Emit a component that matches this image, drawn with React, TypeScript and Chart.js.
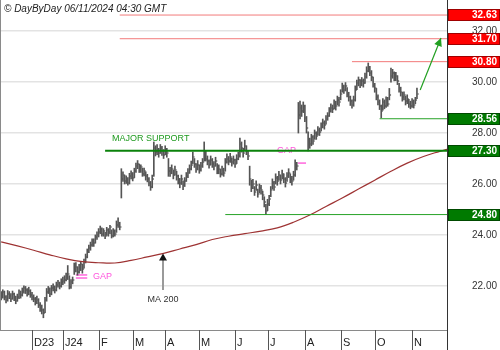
import React, { useEffect, useRef } from "react";
import { Chart, registerables } from "chart.js";

Chart.register(...registerables);

// Daily bars [high, low, close], one array per month
const nov23 = [
  [21.78, 21.45, 21.6], [21.85, 21.52, 21.75], [21.8, 21.45, 21.55], [21.62, 21.33, 21.45], [21.82, 21.4, 21.7],
  [21.78, 21.5, 21.62], [21.7, 21.38, 21.5], [21.8, 21.48, 21.68], [21.72, 21.42, 21.58], [21.6, 21.3, 21.42],
  [21.68, 21.4, 21.55], [21.85, 21.5, 21.7], [21.8, 21.52, 21.65], [21.92, 21.6, 21.8], [22.0, 21.72, 21.92],
  [21.98, 21.7, 21.85], [21.9, 21.6, 21.75], [21.95, 21.65, 21.82], [21.85, 21.55, 21.65],
];
const dec23 = [
  [21.75, 21.45, 21.55], [21.65, 21.38, 21.5], [21.55, 21.25, 21.38], [21.6, 21.3, 21.45], [21.5, 21.15, 21.25],
  [21.35, 21.0, 21.15], [21.25, 20.9, 21.05], [21.1, 20.75, 20.92], [21.55, 20.95, 21.45], [21.9, 21.4, 21.75],
  [21.98, 21.7, 21.85], [21.92, 21.58, 21.7], [22.02, 21.65, 21.9], [22.08, 21.8, 21.95], [22.0, 21.72, 21.85],
  [22.15, 21.8, 22.05], [22.22, 21.95, 22.1], [22.15, 21.88, 22.0], [22.28, 21.95, 22.15],
];
const jan24 = [
  [22.35, 22.05, 22.2], [22.4, 22.1, 22.25], [22.5, 22.2, 22.35], [22.8, 22.25, 22.45], [22.4, 21.88, 21.95],
  [22.25, 21.9, 22.15], [22.35, 22.08, 22.25], [22.9, 22.45, 22.6], [22.92, 22.55, 22.75], [22.75, 22.42, 22.55],
  [22.85, 22.5, 22.7], [22.95, 22.6, 22.85], [22.85, 22.5, 22.65], [23.05, 22.7, 22.95], [23.25, 22.9, 23.15],
  [23.45, 23.1, 23.35], [23.6, 23.3, 23.5], [23.72, 23.4, 23.6], [23.85, 23.55, 23.75], [23.85, 23.55, 23.7],
  [24.0, 23.68, 23.9], [24.12, 23.82, 24.0],
];
const feb24 = [
  [24.25, 23.92, 24.1], [24.35, 24.05, 24.25], [24.28, 23.95, 24.05], [24.25, 23.95, 24.15], [24.1, 23.85, 23.95],
  [24.3, 23.98, 24.2], [24.25, 23.95, 24.1], [24.38, 24.05, 24.3], [24.2, 23.88, 23.95], [24.25, 23.92, 24.15],
  [24.2, 23.95, 24.05], [24.55, 24.1, 24.4], [24.67, 24.3, 24.45], [24.5, 24.2, 24.3], [26.6, 25.45, 26.2],
  [26.48, 26.1, 26.35], [26.35, 26.0, 26.1], [26.32, 26.02, 26.2], [26.25, 25.95, 26.05], [26.42, 26.0, 26.3],
  [26.52, 26.2, 26.4],
];
const mar24 = [
  [26.45, 26.12, 26.25], [26.62, 26.25, 26.5], [26.82, 26.45, 26.7], [26.92, 26.6, 26.8], [26.78, 26.45, 26.55],
  [26.75, 26.45, 26.65], [26.62, 26.3, 26.4], [26.62, 26.32, 26.5], [26.48, 26.15, 26.3], [26.38, 26.08, 26.2],
  [26.25, 25.92, 26.05], [26.1, 25.75, 25.9], [26.35, 25.85, 26.2], [27.65, 26.3, 27.4], [27.5, 27.1, 27.25],
  [27.55, 27.15, 27.35], [27.4, 27.05, 27.2], [27.55, 27.2, 27.4], [27.48, 27.12, 27.3], [27.35, 27.0, 27.15],
];
const apr24 = [
  [27.5, 27.15, 27.35], [27.4, 27.05, 27.2], [27.0, 26.3, 26.5], [26.65, 26.3, 26.45], [26.75, 26.4, 26.6],
  [26.55, 26.2, 26.35], [26.7, 26.35, 26.55], [26.5, 26.15, 26.3], [26.35, 26.0, 26.15], [26.22, 25.85, 26.05],
  [26.35, 25.98, 26.2], [26.12, 25.78, 25.95], [26.25, 25.9, 26.1], [26.45, 26.1, 26.3], [26.6, 26.25, 26.45],
  [26.75, 26.42, 26.6], [26.9, 26.55, 26.75], [27.25, 26.8, 27.05], [27.0, 26.65, 26.8], [26.8, 26.45, 26.6],
  [26.92, 26.55, 26.75],
];
const may24 = [
  [26.75, 26.42, 26.55], [26.85, 26.5, 26.7], [27.0, 26.65, 26.85], [27.65, 26.9, 27.3], [27.3, 26.9, 27.0],
  [27.1, 26.75, 26.9], [26.95, 26.62, 26.75], [27.1, 26.75, 26.95], [27.0, 26.65, 26.8], [26.88, 26.55, 26.7],
  [27.05, 26.7, 26.9], [26.8, 26.4, 26.5], [26.75, 26.4, 26.6], [26.58, 26.27, 26.4], [26.7, 26.35, 26.55],
  [26.62, 26.3, 26.45], [27.0, 26.5, 26.85], [27.18, 26.82, 27.0], [27.08, 26.75, 26.9], [27.2, 26.85, 27.05],
  [27.02, 26.7, 26.85], [27.1, 26.78, 26.95],
];
const jun24 = [
  [26.98, 26.65, 26.8], [27.15, 26.8, 27.0], [27.25, 26.95, 27.1], [27.8, 27.05, 27.55], [27.65, 27.25, 27.4],
  [27.4, 27.05, 27.2], [27.72, 27.3, 27.5], [27.5, 27.15, 27.3], [27.3, 26.95, 27.1], [26.7, 25.95, 26.2],
  [26.15, 25.7, 25.85], [26.18, 25.82, 26.0], [25.9, 25.55, 25.7], [26.12, 25.75, 25.95], [25.8, 25.48, 25.6],
  [26.0, 25.65, 25.85], [25.95, 25.6, 25.75], [25.72, 25.38, 25.55], [25.5, 25.1, 25.3], [25.2, 24.8, 24.95],
];
const jul24 = [
  [25.4, 24.95, 25.2], [25.55, 25.15, 25.4], [25.9, 25.5, 25.75], [26.2, 25.8, 26.05], [26.1, 25.75, 25.9],
  [26.4, 26.0, 26.25], [26.3, 25.95, 26.1], [26.5, 26.15, 26.35], [26.35, 26.0, 26.15], [26.55, 26.2, 26.4],
  [26.4, 26.05, 26.2], [26.25, 25.88, 26.05], [26.45, 26.1, 26.3], [26.6, 26.25, 26.45], [26.4, 26.05, 26.2],
  [26.3, 25.95, 26.1], [26.5, 26.15, 26.35], [26.95, 26.3, 26.8], [26.85, 26.55, 26.7], [29.2, 28.0, 28.7],
  [29.25, 28.55, 29.0], [29.1, 28.65, 28.85], [29.22, 28.8, 29.05],
];
const aug24 = [
  [29.1, 28.45, 28.6], [28.65, 28.0, 28.2], [28.05, 27.3, 27.75], [27.8, 27.4, 27.55], [27.95, 27.5, 27.85],
  [27.9, 27.55, 27.7], [28.12, 27.75, 28.0], [28.05, 27.75, 27.9], [28.25, 27.92, 28.1], [28.2, 27.9, 28.05],
  [28.4, 28.08, 28.25], [28.55, 28.2, 28.4], [28.48, 28.15, 28.3], [28.68, 28.35, 28.55], [28.8, 28.5, 28.65],
  [29.0, 28.65, 28.85], [29.15, 28.82, 29.0], [29.1, 28.8, 28.95], [29.3, 28.95, 29.15], [29.25, 28.9, 29.05],
  [29.45, 29.1, 29.3], [29.4, 29.05, 29.2],
];
const sep24 = [
  [29.7, 29.3, 29.55], [29.96, 29.6, 29.8], [29.88, 29.55, 29.7], [29.98, 29.65, 29.85], [29.78, 29.42, 29.55],
  [29.6, 29.25, 29.4], [29.45, 29.08, 29.25], [29.3, 28.98, 29.1], [29.45, 29.05, 29.3], [29.85, 29.25, 29.7],
  [30.08, 29.7, 29.95], [30.2, 29.85, 30.1], [30.1, 29.78, 29.9], [30.18, 29.85, 30.05], [30.12, 29.8, 29.95],
  [30.35, 29.95, 30.2], [30.6, 30.15, 30.45], [30.75, 30.4, 30.6], [30.62, 30.25, 30.35], [30.45, 30.05, 30.2],
  [30.2, 29.8, 29.9],
];
const oct24 = [
  [29.95, 29.6, 29.75], [29.75, 29.3, 29.4], [29.5, 29.1, 29.2], [29.3, 28.92, 29.05], [29.1, 28.6, 28.85],
  [29.35, 28.9, 29.2], [29.3, 28.95, 29.05], [29.42, 29.0, 29.3], [29.4, 29.05, 29.15], [29.75, 29.3, 29.5],
  [30.55, 30.0, 30.25], [30.5, 30.15, 30.35], [30.4, 30.05, 30.15], [30.38, 30.05, 30.25], [30.25, 29.9, 30.05],
  [29.95, 29.6, 29.75], [29.8, 29.45, 29.6], [29.6, 29.25, 29.4], [29.62, 29.3, 29.5], [29.45, 29.1, 29.25],
  [29.5, 29.15, 29.35], [29.32, 29.0, 29.15], [29.25, 28.95, 29.05],
];
const nov24 = [
  [29.35, 29.0, 29.2], [29.3, 28.98, 29.1], [29.4, 29.15, 29.3], [29.76, 29.35, 29.55],
];

const monthSeries = [nov23, dec23, jan24, feb24, mar24, apr24, may24, jun24, jul24, aug24, sep24, oct24, nov24];
const monthLabels = ["", "D23", "J24", "F", "M", "A", "M", "J", "J", "A", "S", "O", "N"];

const yTicks = [22, 24, 26, 28, 30, 32];
const yMin = 20.27;
const yMax = 33.22;
const xMin = -0.71;
const xMax = 274.5;

// 200-day moving average, sampled by trading-day index
const maIndex = [0, 10, 20, 30, 40, 50, 60, 70, 80, 90, 100, 110, 120, 130, 140, 150, 160, 170, 180, 190, 200, 210, 220, 230, 240, 250, 260, 270, 274.5];
const ma200 = [23.73, 23.57, 23.4, 23.22, 23.06, 22.95, 22.91, 22.9, 23.0, 23.14, 23.28, 23.45, 23.62, 23.82, 23.95, 24.05, 24.15, 24.28, 24.5, 24.78, 25.12, 25.45, 25.8, 26.15, 26.5, 26.82, 27.08, 27.28, 27.36];

// Support / resistance levels
const levelValues = [32.63, 31.7, 30.8, 28.56, 27.3, 24.8];
const levelStart = [73, 73, 216, 233, 64, 138];
const levelKind = ["res", "res", "res", "sup", "major", "sup"];

// Projection arrow
const arrowIndex = [258, 270.8];
const arrowValue = [29.69, 31.73];

// Gap markers
const gapOneValues = [22.31, 22.43];
const gapOneRange = [46, 53];
const gapOneLabel = { index: 56.6, value: 22.27 };
const gapTwoValue = 26.82;
const gapTwoRange = [182.8, 187.7];
const gapTwoLabel = { index: 169.9, value: 27.22 };

const supportLabel = { text: "MAJOR SUPPORT", index: 68.3, value: 27.69 };
const maLabel = { text: "MA 200", index: 99.7, base: 21.84, textValue: 21.37 };

const FONT = 'Arial, "Liberation Sans", Helvetica, sans-serif';

const bars = monthSeries.flat();
const monthStarts: number[] = [];
{
  let acc = 0;
  monthSeries.forEach((m) => {
    monthStarts.push(acc);
    acc += m.length;
  });
}

function levelColor(kind: string) {
  if (kind === "res") return "#f27a7a";
  if (kind === "major") return "#0b820b";
  return "#27a327";
}

const overlay = {
  id: "overlay",
  beforeDatasetsDraw(chart: any) {
    const { ctx, scales } = chart;
    const x = scales.x;
    const y = scales.y;
    ctx.save();
    // close ticks
    ctx.fillStyle = "#222";
    bars.forEach((b: number[], i: number) => {
      const px = x.getPixelForValue(i);
      const py = y.getPixelForValue(b[2]);
      ctx.fillRect(px + 0.5, Math.round(py) - 0.5, 1.2, 1);
    });
    // gap markers
    ctx.strokeStyle = "#ff66dd";
    ctx.lineWidth = 1.5;
    gapOneValues.forEach((v) => {
      const py = y.getPixelForValue(v);
      ctx.beginPath();
      ctx.moveTo(x.getPixelForValue(gapOneRange[0]), py);
      ctx.lineTo(x.getPixelForValue(gapOneRange[1]), py);
      ctx.stroke();
    });
    {
      const py = y.getPixelForValue(gapTwoValue);
      ctx.beginPath();
      ctx.moveTo(x.getPixelForValue(gapTwoRange[0]), py);
      ctx.lineTo(x.getPixelForValue(gapTwoRange[1]), py);
      ctx.stroke();
    }
    ctx.fillStyle = "#ff55dd";
    ctx.font = `9px ${FONT}`;
    ctx.textAlign = "left";
    ctx.textBaseline = "alphabetic";
    ctx.fillText("GAP", x.getPixelForValue(gapOneLabel.index), y.getPixelForValue(gapOneLabel.value));
    ctx.fillText("GAP", x.getPixelForValue(gapTwoLabel.index), y.getPixelForValue(gapTwoLabel.value));
    // support label
    ctx.fillStyle = "#1f9a1f";
    ctx.fillText(supportLabel.text, x.getPixelForValue(supportLabel.index), y.getPixelForValue(supportLabel.value));
    ctx.restore();
  },
  afterDatasetsDraw(chart: any) {
    const { ctx, scales } = chart;
    const x = scales.x;
    const y = scales.y;
    ctx.save();
    // arrow head for projection
    const x0 = x.getPixelForValue(arrowIndex[0]);
    const y0 = y.getPixelForValue(arrowValue[0]);
    const x1 = x.getPixelForValue(arrowIndex[1]);
    const y1 = y.getPixelForValue(arrowValue[1]);
    const ang = Math.atan2(y1 - y0, x1 - x0);
    ctx.fillStyle = "#22a022";
    ctx.beginPath();
    ctx.moveTo(x1, y1);
    ctx.lineTo(x1 - 8 * Math.cos(ang) + 4 * Math.sin(ang), y1 - 8 * Math.sin(ang) - 4 * Math.cos(ang));
    ctx.lineTo(x1 - 8 * Math.cos(ang) - 4 * Math.sin(ang), y1 - 8 * Math.sin(ang) + 4 * Math.cos(ang));
    ctx.closePath();
    ctx.fill();
    // MA 200 pointer
    let k = 0;
    while (k < maIndex.length - 2 && maIndex[k + 1] < maLabel.index) k++;
    const t = (maLabel.index - maIndex[k]) / (maIndex[k + 1] - maIndex[k]);
    const maVal = ma200[k] + t * (ma200[k + 1] - ma200[k]);
    const mx = Math.round(x.getPixelForValue(maLabel.index));
    const tipY = y.getPixelForValue(maVal);
    const baseY = y.getPixelForValue(maLabel.base);
    ctx.strokeStyle = "#9a9a9a";
    ctx.lineWidth = 2;
    ctx.beginPath();
    ctx.moveTo(mx, baseY);
    ctx.lineTo(mx, tipY + 6);
    ctx.stroke();
    ctx.fillStyle = "#111";
    ctx.beginPath();
    ctx.moveTo(mx, tipY);
    ctx.lineTo(mx - 4, tipY + 7);
    ctx.lineTo(mx + 4, tipY + 7);
    ctx.closePath();
    ctx.fill();
    ctx.fillStyle = "#333";
    ctx.font = `9px ${FONT}`;
    ctx.textAlign = "center";
    ctx.textBaseline = "alphabetic";
    ctx.fillText(maLabel.text, mx, y.getPixelForValue(maLabel.textValue));
    ctx.restore();
  },
  afterDraw(chart: any) {
    const { ctx, scales, chartArea, width, height } = chart;
    const x = scales.x;
    const y = scales.y;
    ctx.save();
    // borders
    ctx.strokeStyle = "#8a8a8a";
    ctx.lineWidth = 1;
    ctx.beginPath();
    ctx.moveTo(0.5, chartArea.top);
    ctx.lineTo(0.5, chartArea.bottom);
    ctx.moveTo(chartArea.left, chartArea.bottom + 0.5);
    ctx.lineTo(chartArea.right, chartArea.bottom + 0.5);
    ctx.stroke();
    ctx.strokeStyle = "#333";
    ctx.beginPath();
    ctx.moveTo(Math.round(chartArea.right) + 0.5, 0);
    ctx.lineTo(Math.round(chartArea.right) + 0.5, height);
    ctx.stroke();
    // month separators and labels
    ctx.strokeStyle = "#555";
    ctx.fillStyle = "#222";
    ctx.font = `11px ${FONT}`;
    ctx.textAlign = "left";
    ctx.textBaseline = "alphabetic";
    monthStarts.forEach((s, i) => {
      if (!monthLabels[i]) return;
      const px = Math.round(x.getPixelForValue(s)) + 0.5;
      ctx.beginPath();
      ctx.moveTo(px, chartArea.bottom);
      ctx.lineTo(px, height);
      ctx.stroke();
      ctx.fillText(monthLabels[i], px + 1.5, height - 4);
    });
    // level boxes
    ctx.font = `bold 10px ${FONT}`;
    ctx.textAlign = "right";
    ctx.textBaseline = "middle";
    levelValues.forEach((v, i) => {
      const py = Math.round(y.getPixelForValue(v));
      const red = levelKind[i] === "res";
      ctx.fillStyle = red ? "#ff0000" : "#007a00";
      ctx.fillRect(chartArea.right + 1, py - 6, width - chartArea.right - 1, 12);
      ctx.strokeStyle = red ? "#a00000" : "#004a00";
      ctx.strokeRect(chartArea.right + 1.5, py - 5.5, width - chartArea.right - 2, 11);
      ctx.fillStyle = "#fff";
      ctx.fillText(v.toFixed(2), width - 3, py + 0.5);
    });
    // copyright
    ctx.fillStyle = "#222";
    ctx.font = `italic 10px ${FONT}`;
    ctx.textAlign = "left";
    ctx.textBaseline = "alphabetic";
    ctx.fillText("\u00a9 DayByDay 06/11/2024 04:30 GMT", 4, 12);
    ctx.restore();
  },
};

export default function App() {
  const canvasRef = useRef<HTMLCanvasElement | null>(null);

  useEffect(() => {
    if (!canvasRef.current) return;
    const levelDatasets = levelValues.map((v, i) => ({
      type: "line" as const,
      data: [
        { x: levelStart[i], y: v },
        { x: xMax, y: v },
      ],
      borderColor: levelColor(levelKind[i]),
      borderWidth: levelKind[i] === "major" ? 2 : 1,
      pointRadius: 0,
      order: 1,
    }));
    const chart = new Chart(canvasRef.current, {
      type: "bar",
      data: {
        datasets: [
          {
            type: "bar" as const,
            data: bars.map((b: number[], i: number) => ({ x: i, y: [b[1], b[0]] })) as any,
            backgroundColor: "#555555",
            borderWidth: 0,
            barThickness: 1,
            order: 3,
          },
          {
            type: "line" as const,
            data: maIndex.map((ix, i) => ({ x: ix, y: ma200[i] })),
            borderColor: "#9e3333",
            borderWidth: 1.2,
            pointRadius: 0,
            tension: 0.4,
            order: 2,
          },
          ...levelDatasets,
          {
            type: "line" as const,
            data: arrowIndex.map((ix, i) => ({ x: ix, y: arrowValue[i] })),
            borderColor: "#22a022",
            borderWidth: 1.2,
            pointRadius: 0,
            order: 0,
          },
        ] as any,
      },
      options: {
        responsive: false,
        animation: false,
        devicePixelRatio: 1,
        layout: { autoPadding: false, padding: { left: 0, top: 0, right: 0, bottom: 20 } },
        plugins: { legend: { display: false }, tooltip: { enabled: false } },
        scales: {
          x: {
            type: "linear",
            min: xMin,
            max: xMax,
            offset: false,
            display: false,
            grid: { display: false },
          },
          y: {
            type: "linear",
            position: "right",
            min: yMin,
            max: yMax,
            afterBuildTicks: (axis: any) => {
              axis.ticks = yTicks.map((v) => ({ value: v }));
            },
            afterFit: (axis: any) => {
              axis.width = 53;
              axis.paddingTop = 0;
              axis.paddingBottom = 0;
            },
            grid: { color: "#e3e3e3", lineWidth: 1.5, drawTicks: false },
            border: { display: false },
            ticks: {
              crossAlign: "near",
              padding: 25,
              color: "#333",
              font: { size: 10, family: FONT },
              callback: (v: any) => Number(v).toFixed(2),
            },
          },
        },
      } as any,
      plugins: [overlay],
    });
    return () => chart.destroy();
  }, []);

  return (
    <div style={{ position: "fixed", left: 0, top: 0, width: 500, height: 350, background: "#fff" }}>
      <canvas ref={canvasRef} width={500} height={350} style={{ display: "block" }} />
    </div>
  );
}
